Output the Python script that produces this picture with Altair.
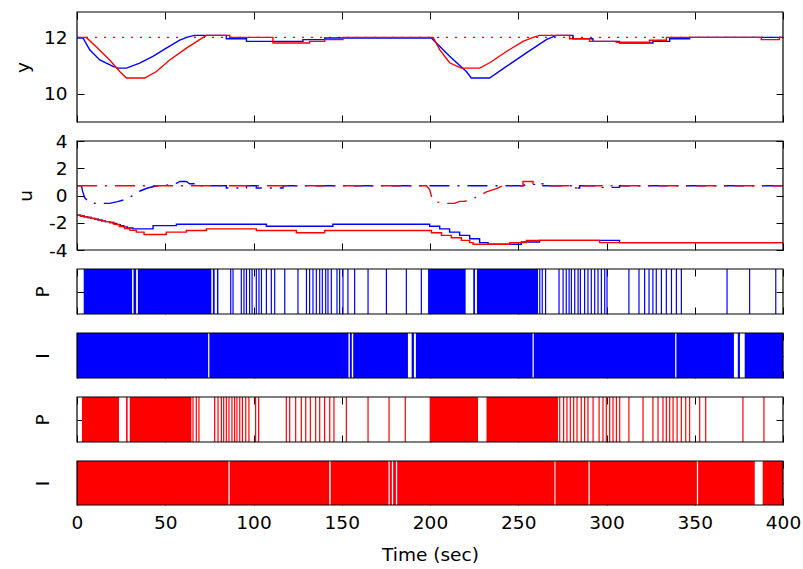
import altair as alt
import pandas as pd

# ---------------- data ----------------
time_ticks = [0, 50, 100, 150, 200, 250, 300, 350, 400]
y_ticks = [10, 12]
u_ticks = [-4, -2, 0, 2, 4]

# output y: setpoint and the two closed-loop responses
setpoint_t = [0, 400]
setpoint_v = [12.0, 12.0]

y_blue_t = [0, 3.4, 7.2, 12.9, 20.4, 23.3, 28, 35.5, 43, 50.6, 58.2, 63, 66.7, 84.6, 84.6, 96, 96,
            128, 128, 140.3, 140.3, 200.8, 211.1, 220.6, 223.4, 233.8, 243.3, 254.6, 265.9, 271.6,
            281, 281, 292.3, 292.3, 307.4, 307.4, 326.3, 326.3, 335.8, 335.8, 347.1, 347.1, 400]
y_blue_v = [11.98, 11.98, 11.56, 11.2, 10.97, 10.91, 10.91, 11.09, 11.33, 11.62, 11.9, 12.02, 12.07,
            12.07, 11.95, 11.95, 11.86, 11.86, 11.92, 11.92, 11.98, 11.98, 11.33, 10.79, 10.56, 10.56,
            10.97, 11.45, 11.92, 12.07, 12.07, 11.95, 11.95, 11.86, 11.86, 11.8, 11.8, 11.86, 11.86,
            11.95, 11.95, 12.0, 12.0]

y_red_t = [0, 5.3, 11, 18.5, 24.2, 28, 38.4, 45, 52.5, 62, 69.5, 73.3, 86.5, 86.5, 111, 111, 131.8,
           131.8, 140.3, 140.3, 150.7, 150.7, 201.8, 205.6, 211.1, 217.7, 228.1, 233.8, 243.3, 252.7,
           258.4, 262.1, 279.1, 279.1, 290.4, 290.4, 305.5, 305.5, 324.4, 324.4, 333.9, 333.9, 387.7,
           387.7, 398, 398, 400]
y_red_v = [12.0, 12.0, 11.66, 11.2, 10.79, 10.56, 10.56, 10.79, 11.2, 11.62, 11.92, 12.07, 12.07,
           12.0, 12.0, 11.8, 11.8, 11.86, 11.86, 11.92, 11.92, 12.0, 12.0, 11.56, 11.1, 10.91, 10.91,
           11.1, 11.5, 11.86, 12.0, 12.07, 12.07, 11.95, 11.95, 11.86, 11.86, 11.83, 11.83, 11.9,
           11.9, 12.0, 12.0, 11.92, 11.92, 12.0, 12.0]

# control u: solid = integral part, dash-dot = proportional part
u_blue_solid_t = [0, 2, 4, 6, 8, 10, 12, 14, 16, 18.5, 20.5, 22.5, 24.5, 26.5, 28.5, 31.7, 43.1,
                  56.3, 107.3, 145, 199.8, 205.5, 211.1, 216.8, 222.5, 228.1, 232.9, 251.7, 262.1,
                  307.4, 400]
u_blue_solid_v = [-1.44, -1.5, -1.56, -1.62, -1.68, -1.74, -1.8, -1.86, -1.92, -1.98, -2.06, -2.14,
                  -2.22, -2.3, -2.38, -2.45, -2.21, -2.11, -2.26, -2.11, -2.26, -2.45, -2.69, -2.93,
                  -3.17, -3.46, -3.58, -3.41, -3.29, -3.46, -3.46]

u_red_solid_t = [0, 2, 4, 6, 8, 10, 12, 14, 16, 18.5, 21, 24, 27, 30, 33.6, 38, 50.6, 62, 73.3,
                 101.6, 124.3, 140.3, 200.8, 206.5, 212.1, 217.8, 222.5, 224.4, 245.2, 254.6, 296.1,
                 400]
u_red_solid_v = [-1.44, -1.5, -1.56, -1.62, -1.68, -1.74, -1.8, -1.86, -1.92, -1.98, -2.12, -2.27,
                 -2.42, -2.56, -2.69, -2.86, -2.69, -2.57, -2.45, -2.57, -2.73, -2.57, -2.73, -2.93,
                 -3.1, -3.29, -3.46, -3.58, -3.46, -3.29, -3.46, -3.46]

u_blue_dd_t = [0, 2.5, 3.2, 4.4, 7, 10, 18.5, 23, 27, 31.7, 36, 40, 45, 55, 58.2, 62, 63.8, 69.5,
               69.5, 84.6, 84.6, 96, 96, 101.6, 101.6, 116.7, 116.7, 252.7, 254.6, 264, 264, 281,
               281, 284.8, 284.8, 296.1, 296.1, 307.4, 307.4, 400]
u_blue_dd_v = [0.72, 0.72, 0.3, -0.17, -0.5, -0.58, -0.58, -0.45, -0.3, 0.0, 0.35, 0.55, 0.7, 0.8,
               1.03, 1.03, 0.86, 0.86, 0.72, 0.72, 0.55, 0.55, 0.72, 0.72, 0.55, 0.55, 0.72, 0.72,
               0.82, 0.82, 0.72, 0.72, 0.55, 0.55, 0.72, 0.72, 0.6, 0.6, 0.72, 0.72]

u_red_dd_t = [0, 198, 199.8, 200.8, 203.6, 209.3, 214, 216.8, 219.6, 225.3, 232, 237.6, 241.4,
              252.7, 252.7, 258.4, 258.4, 264, 264, 281, 281, 284.8, 284.8, 400]
u_red_dd_v = [0.72, 0.72, 0.43, -0.05, -0.48, -0.58, -0.58, -0.43, -0.43, -0.17, 0.26, 0.5, 0.72,
              0.72, 1.03, 1.03, 0.86, 0.86, 0.72, 0.72, 0.55, 0.55, 0.72, 0.72]

# switching activity: blocks of continuous activity and single-sample pulses
p_blue_start = [3.8, 32.0, 34.5, 77.0, 79.3, 198.9, 224.5, 226.6]
p_blue_end = [31.2, 33.5, 76.1, 78.0, 80.1, 220.2, 225.5, 261.2]
p_blue_pulses = [87.1, 88.4, 93.1, 94.6, 96.0, 97.8, 99.2, 101.6, 103.1, 104.5, 107.3, 110.1, 112.0,
                 117.7, 125.2, 130.0, 131.8, 133.7, 135.6, 137.5, 139.0, 140.9, 142.2, 144.1, 147.3,
                 148.8, 150.7, 153.5, 157.3, 164.9, 175.3, 186.6, 195.1, 262.2, 263.6, 265.5, 273.1,
                 275.4, 277.2, 278.8, 280.1, 282.0, 283.9, 285.2, 287.6, 289.5, 291.4, 293.3, 295.2,
                 297.1, 299.0, 300.3, 312.7, 318.4, 321.6, 324.1, 326.3, 328.2, 331.1, 333.9, 336.8,
                 339.6, 342.4, 368.3, 381.1, 395.9]

i_blue_start = [0, 75.0, 154.6, 156.5, 189.6, 192.0, 258.8, 339.6, 374.4, 378.3]
i_blue_end = [74.3, 153.8, 155.7, 187.5, 190.9, 258.1, 338.9, 372.2, 375.6, 400]

p_red_start = [2.8, 27.8, 29.9, 199.8, 232.0]
p_red_end = [23.8, 28.7, 64.8, 227.2, 272.5]
p_red_pulses = [65.7, 67.6, 69.1, 78.0, 79.9, 81.8, 83.1, 84.6, 86.1, 87.8, 89.3, 90.6, 92.2, 93.7,
                95.6, 97.4, 101.2, 102.9, 118.6, 120.5, 123.9, 127.1, 129.6, 132.2, 135.2, 137.5,
                140.3, 143.2, 145.6, 152.6, 164.9, 176.8, 186.0, 273.5, 275.7, 277.6, 279.5, 281.4,
                283.3, 285.7, 287.6, 289.5, 292.4, 295.8, 298.0, 299.9, 301.8, 303.7, 305.6, 307.5,
                312.7, 320.7, 326.3, 329.2, 332.0, 333.9, 335.8, 337.7, 340.0, 342.4, 344.9, 347.1,
                352.8, 356.2, 377.3, 389.2]

i_red_start = [0, 86.5, 143.7, 177.2, 179.1, 181.4, 271.1, 290.5, 351.9, 388.5]
i_red_end = [85.8, 142.9, 176.5, 178.4, 180.7, 270.5, 289.8, 351.2, 384.0, 400]

# ---------------- styling ----------------
BLUE = "#0000ff"
RED = "#ff0000"
FONT = "DejaVu Sans"
FS = 18.5
W = 706
TICK = 7
LW = 1.4
DASHDOT = [20, 8, 2, 8]

x_scale = alt.Scale(domain=[0, 400], nice=False, zero=False)


def ax_bottom(labels=False):
    return alt.Axis(orient="bottom", values=time_ticks, tickSize=TICK, offset=-TICK,
                    labels=labels, labelPadding=8, labelFlush=False,
                    titleY=62, titleBaseline="alphabetic")


def ax_top():
    return alt.Axis(orient="top", values=time_ticks, tickSize=TICK, offset=-TICK, labels=False)


def ax_left(values, title, title_x, labels=True):
    return alt.Axis(orient="left", values=values, tickSize=TICK, offset=-TICK, labels=labels,
                    labelPadding=10, labelExpr="datum.value + ''", title=title,
                    titleX=title_x, titleBaseline="middle")


def ax_right(values):
    return alt.Axis(orient="right", values=values, tickSize=TICK, offset=-TICK, labels=False)


def frame(h):
    return alt.Chart(pd.DataFrame({"k": [0]})).mark_rect(
        fillOpacity=0, stroke="black", strokeWidth=1.2
    ).encode(x=alt.value(0), x2=alt.value(W), y=alt.value(0), y2=alt.value(h))


def guide_layer(y_scale, y_values, y_domain):
    df = pd.DataFrame({"t": [0, 400], "v": y_domain})
    return alt.Chart(df).mark_point(opacity=0).encode(
        x=alt.X("t:Q", scale=x_scale, axis=ax_top(), title=None),
        y=alt.Y("v:Q", scale=y_scale, axis=ax_right(y_values), title=None),
    )


def series(t, v, color, y_scale, dash=None, interp="linear", x_axis=None, y_axis=None):
    mark_kw = dict(color=color, strokeWidth=LW, interpolate=interp)
    if dash is not None:
        mark_kw["strokeDash"] = dash
    return alt.Chart(pd.DataFrame({"t": t, "v": v})).mark_line(**mark_kw).encode(
        x=alt.X("t:Q", scale=x_scale, axis=x_axis, title=None),
        y=alt.Y("v:Q", scale=y_scale, axis=y_axis),
    )


# ---------------- panel: y ----------------
H1 = 110
ys1 = alt.Scale(domain=[9, 12.9], nice=False, zero=False)
p1 = alt.layer(
    series(setpoint_t, setpoint_v, RED, ys1, dash=[2, 7]),
    series(y_blue_t, y_blue_v, BLUE, ys1, x_axis=ax_bottom(), y_axis=ax_left(y_ticks, "y", -61.5)),
    series(y_red_t, y_red_v, RED, ys1),
    guide_layer(ys1, y_ticks, [9, 12.9]),
    frame(H1),
).resolve_axis(x="independent", y="independent").properties(width=W, height=H1)

# ---------------- panel: u ----------------
H2 = 109
ys2 = alt.Scale(domain=[-4, 4], nice=False, zero=False)
p2 = alt.layer(
    series(u_blue_solid_t, u_blue_solid_v, BLUE, ys2, interp="step-after",
           x_axis=ax_bottom(), y_axis=ax_left(u_ticks, "u", -59)),
    series(u_red_solid_t, u_red_solid_v, RED, ys2, interp="step-after"),
    series(u_blue_dd_t, u_blue_dd_v, BLUE, ys2, dash=DASHDOT),
    series(u_red_dd_t, u_red_dd_v, RED, ys2, dash=DASHDOT),
    guide_layer(ys2, u_ticks, [-4, 4]),
    frame(H2),
).resolve_axis(x="independent", y="independent").properties(width=W, height=H2)


# ---------------- switching strips ----------------
def strip(starts, ends, pulses, color, title, h, last=False):
    ys = alt.Scale(domain=[0, 1], nice=False, zero=False)
    x_title = "Time (sec)" if last else None
    layers = [
        alt.Chart(pd.DataFrame({"s": starts, "e": ends})).mark_rect(color=color).encode(
            x=alt.X("s:Q", scale=x_scale, axis=ax_bottom(last), title=x_title),
            x2="e:Q",
            y=alt.YDatum(0, type="quantitative", scale=ys,
                         axis=ax_left([0.5], title, -42, labels=False)),
            y2=alt.Y2Datum(1),
        )
    ]
    if pulses:
        layers.append(
            alt.Chart(pd.DataFrame({"t": pulses})).mark_rule(color=color, strokeWidth=1.2).encode(
                x=alt.X("t:Q", scale=x_scale, axis=None),
                y=alt.YDatum(0, type="quantitative", scale=ys, axis=None),
                y2=alt.Y2Datum(1),
            )
        )
    layers.append(guide_layer(ys, [0.5], [0, 1]))
    layers.append(frame(h))
    return alt.layer(*layers).resolve_axis(x="independent", y="independent").properties(width=W, height=h)


p3 = strip(p_blue_start, p_blue_end, p_blue_pulses, BLUE, "P", 45)
p4 = strip(i_blue_start, i_blue_end, [], BLUE, "I", 45)
p5 = strip(p_red_start, p_red_end, p_red_pulses, RED, "P", 45)
p6 = strip(i_red_start, i_red_end, [], RED, "I", 44, last=True)

chart = alt.vconcat(p1, p2, p3, p4, p5, p6, spacing=19, bounds="flush").properties(
    padding={"left": 13, "top": 9, "right": 2, "bottom": 2},
    background="white",
).configure_axis(
    labelFont=FONT, titleFont=FONT, labelFontSize=FS, titleFontSize=FS,
    labelColor="black", titleColor="black", titleFontWeight="normal",
    tickColor="black", tickWidth=1, grid=False, domain=False,
).configure_view(strokeWidth=0)

chart.save("out.html", embed_options={"renderer": "svg", "actions": False})
